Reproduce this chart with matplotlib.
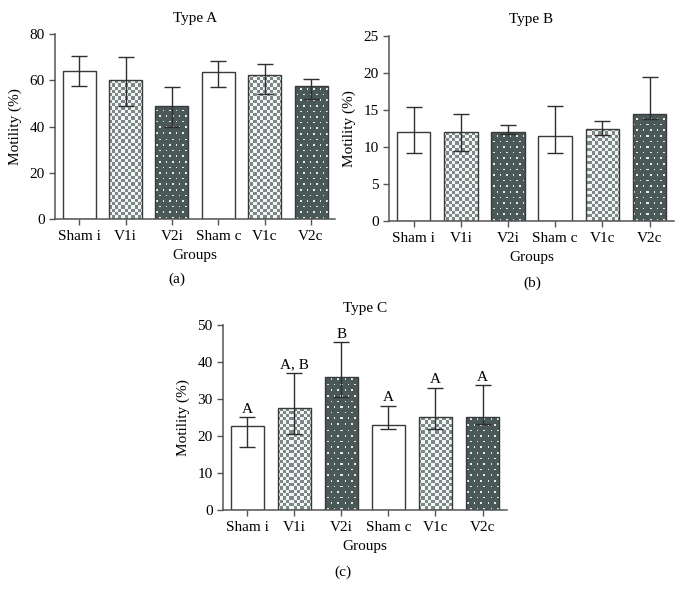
import numpy as np
import matplotlib
matplotlib.use('Agg')
import matplotlib.pyplot as plt

plt.rcParams['font.family'] = ['Liberation Serif', 'DejaVu Serif']

groups = ['Sham i', 'V1i', 'V2i', 'Sham c', 'V1c', 'V2c']
styles = ['white', 'check', 'dots', 'white', 'check', 'dots']

# Type A
a_mean = [64.0, 60.0, 49.0, 63.5, 62.2, 57.5]
a_low = [57.7, 48.9, 39.6, 57.2, 54.0, 51.8]
a_high = [70.7, 70.2, 56.9, 68.3, 67.0, 60.4]

# Type B
b_mean = [12.0, 12.0, 12.0, 11.5, 12.5, 14.4]
b_low = [9.2, 9.5, 11.8, 9.2, 11.6, 13.8]
b_high = [15.4, 14.5, 13.0, 15.5, 13.5, 19.5]

# Type C
c_mean = [22.8, 27.5, 36.0, 23.0, 25.0, 25.0]
c_low = [17.0, 20.5, 30.6, 22.0, 22.0, 23.2]
c_high = [25.0, 37.1, 45.3, 28.2, 33.0, 33.7]
c_letters = ['A', 'A, B', 'B', 'A', 'A', 'A']

dark = '#4b5858'
check_gray = '#7a8888'
edge = '#3a3a3a'
axis_col = '#555555'

fig = plt.figure(figsize=(6.85, 5.98), dpi=100)


def pattern_images(ax):
    fig.canvas.draw()
    bb = ax.get_window_extent()
    w, h = int(round(bb.width)), int(round(bb.height))
    yy, xx = np.mgrid[0:h, 0:w]
    # checkerboard
    chk = ((np.floor(xx / 3.3) + np.floor(yy / 3.3)) % 2).astype(bool)
    c1 = np.array(matplotlib.colors.to_rgb(check_gray))
    c2 = np.array(matplotlib.colors.to_rgb('#f4f6f6'))
    img_chk = np.where(chk[..., None], c1, c2)
    # staggered dots
    row = np.floor(yy / 5.6).astype(int)
    shift = (row % 2) * 3.25
    dx = (xx + shift) % 6.5
    dy = yy % 5.6
    dot = (dx < 1.5) & (dy < 1.5)
    d1 = np.array(matplotlib.colors.to_rgb(dark))
    d2 = np.array(matplotlib.colors.to_rgb('#e6ebeb'))
    img_dot = np.where(dot[..., None], d2, d1)
    return img_chk, img_dot


def panel(rect, title, mean, low, high, ymax, step, letters=None):
    ax = fig.add_axes(rect)
    x = np.arange(len(groups))
    bars = ax.bar(x, mean, width=0.71, color='white', edgecolor=edge,
                  linewidth=1.0, zorder=2)
    ax.set_xlim(-0.52, len(groups) - 0.48)
    ax.set_ylim(0, ymax)
    img_chk, img_dot = pattern_images(ax)
    for b, s in zip(bars, styles):
        if s == 'white':
            continue
        img = img_chk if s == 'check' else img_dot
        im = ax.imshow(img, extent=(0, 1, 0, 1), transform=ax.transAxes,
                       interpolation='nearest', aspect='auto', zorder=1.5,
                       origin='lower')
        im.set_clip_path(b)
        b.set_facecolor('none')
    err = [np.array(mean) - np.array(low), np.array(high) - np.array(mean)]
    ax.errorbar(x, mean, yerr=err, fmt='none', ecolor='#2e2e2e',
                elinewidth=1.0, capsize=5.5, capthick=1.0, zorder=3)
    if letters:
        for xi, hi, lab in zip(x, high, letters):
            ax.annotate(lab, (xi, hi), xytext=(0, 1), textcoords='offset points',
                        ha='center', va='bottom', fontsize=11)
    ax.set_xticks(x)
    ax.set_xticklabels(groups, fontsize=11)
    ax.set_yticks(np.arange(0, ymax + 0.1, step))
    ax.tick_params(axis='y', labelsize=11, length=4, color=axis_col, width=1)
    ax.tick_params(axis='x', length=4, color=axis_col, width=1, pad=4)
    for sp in ['top', 'right']:
        ax.spines[sp].set_visible(False)
    for sp in ['left', 'bottom']:
        ax.spines[sp].set_color(axis_col)
        ax.spines[sp].set_linewidth(1.1)
    ax.set_title(title, fontsize=11, pad=9)
    ax.set_xlabel('Groups', fontsize=11, labelpad=4)
    ax.set_ylabel('Motility (%)', fontsize=11, labelpad=5)
    return ax


panel([0.0803, 0.6338, 0.409, 0.3093], 'Type A', a_mean, a_low, a_high, 80, 20)
panel([0.568, 0.6304, 0.416, 0.3094], 'Type B', b_mean, b_low, b_high, 25, 5)
panel([0.3255, 0.1472, 0.4146, 0.3094], 'Type C', c_mean, c_low, c_high, 50, 10,
      c_letters)

fig.text(177 / 685, 1 - 279 / 598, '(a)', ha='center', va='center', fontsize=11)
fig.text(532 / 685, 1 - 283 / 598, '(b)', ha='center', va='center', fontsize=11)
fig.text(343 / 685, 1 - 572 / 598, '(c)', ha='center', va='center', fontsize=11)

fig.savefig('out.png', dpi=100)
